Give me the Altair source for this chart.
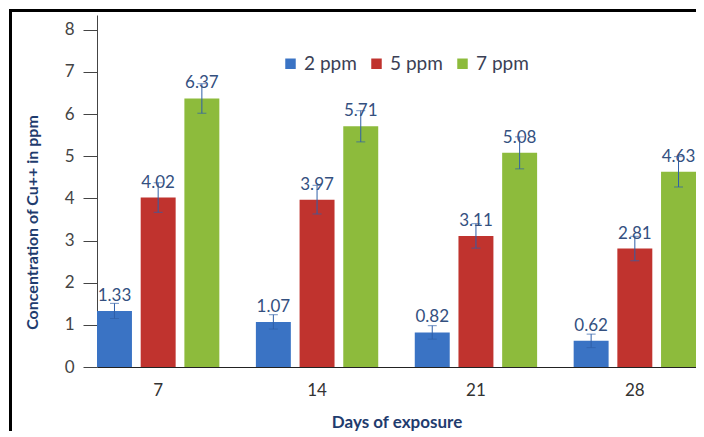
import altair as alt
import pandas as pd

days = ["7", "14", "21", "28"]
series = ["2 ppm", "5 ppm", "7 ppm"]
values = {
    "2 ppm": [1.33, 1.07, 0.82, 0.62],
    "5 ppm": [4.02, 3.97, 3.11, 2.81],
    "7 ppm": [6.37, 5.71, 5.08, 4.63],
}
errors = {
    "2 ppm": [0.18, 0.17, 0.16, 0.16],
    "5 ppm": [0.35, 0.34, 0.29, 0.29],
    "7 ppm": [0.35, 0.37, 0.38, 0.36],
}
colors = ["#3A73C4", "#C0332E", "#8DBB3C"]
y_ticks = [0, 1, 2, 3, 4, 5, 6, 7, 8]

rows = []
for s in series:
    for d, v, e in zip(days, values[s], errors[s]):
        rows.append({"day": d, "series": s, "value": v, "lo": v - e, "hi": v + e,
                     "label": f"{v:.2f}"})
df = pd.DataFrame(rows)

FONT = "Lato"
W, H = 599, 352

x = alt.X("day:N", sort=days, scale=alt.Scale(paddingInner=0.23, paddingOuter=0),
          axis=alt.Axis(title="Days of exposure", labelAngle=0, ticks=False, labelPadding=15,
                        labelFontSize=17, labelColor="#333333", labelFont=FONT,
                        titleFont=FONT, titleFontSize=17, titleFontWeight="bold",
                        titleColor="#1F3C6E", titlePadding=16,
                        domainColor="#222222", domainWidth=1.2))
xo = alt.XOffset("series:N", sort=series, scale=alt.Scale(paddingInner=0.2, paddingOuter=0))

base = alt.Chart(df)

bars = base.mark_bar().encode(
    x=x,
    xOffset=xo,
    y=alt.Y("value:Q", scale=alt.Scale(domain=[0, 8.35], nice=False),
            axis=alt.Axis(values=y_ticks, title="Concentration of Cu++ in ppm", grid=False,
                          tickSize=14, tickColor="#444444", domainColor="#444444",
                          labelFontSize=17, labelColor="#444444", labelFont=FONT, labelPadding=9,
                          titleFont=FONT, titleFontSize=16, titleFontWeight="bold",
                          titleColor="#1F3C6E", titleAngle=270, titleX=-65, titleY=207,
                          titleAlign="center", titleBaseline="middle")),
    color=alt.Color("series:N", sort=series, scale=alt.Scale(domain=series, range=colors),
                    legend=alt.Legend(title=None, orient="none", direction="horizontal",
                                      legendX=184, legendY=39, symbolType="square",
                                      symbolSize=110, symbolStrokeWidth=0, labelFontSize=19,
                                      labelColor="#3B3F55", labelFont=FONT, columnPadding=10,
                                      symbolOpacity=1)),
)

err = base.mark_rule(color="#2F5FA8", strokeWidth=1).encode(
    x=alt.X("day:N", sort=days), xOffset=xo, y="lo:Q", y2="hi:Q")
cap_hi = base.mark_tick(color="#2F5FA8", thickness=1, size=9, orient="horizontal").encode(
    x=alt.X("day:N", sort=days), xOffset=xo, y="hi:Q")
cap_lo = base.mark_tick(color="#2F5FA8", thickness=1, size=9, orient="horizontal").encode(
    x=alt.X("day:N", sort=days), xOffset=xo, y="lo:Q")

labels = base.mark_text(baseline="bottom", dy=-6, fontSize=17, font=FONT, color="#34507F").encode(
    x=alt.X("day:N", sort=days), xOffset=xo, y="value:Q", text="label:N")

frame = pd.DataFrame({"a": [0]})
frame_top = alt.Chart(frame).mark_rect(color="#000000").encode(
    x=alt.value(-88), x2=alt.value(W + 10), y=alt.value(-6), y2=alt.value(-3))
frame_left = alt.Chart(frame).mark_rect(color="#000000").encode(
    x=alt.value(-88), x2=alt.value(-85), y=alt.value(-6), y2=alt.value(H + 80))

chart = alt.layer(bars, err, cap_hi, cap_lo, labels, frame_top, frame_left).properties(
    width=W, height=H,
    autosize=alt.AutoSizeParams(type="none"),
    padding={"left": 89, "top": 7, "right": 0, "bottom": 64},
    background="white",
).configure_view(stroke=None)

chart.save("out.html", embed_options={"renderer": "svg", "actions": False})
